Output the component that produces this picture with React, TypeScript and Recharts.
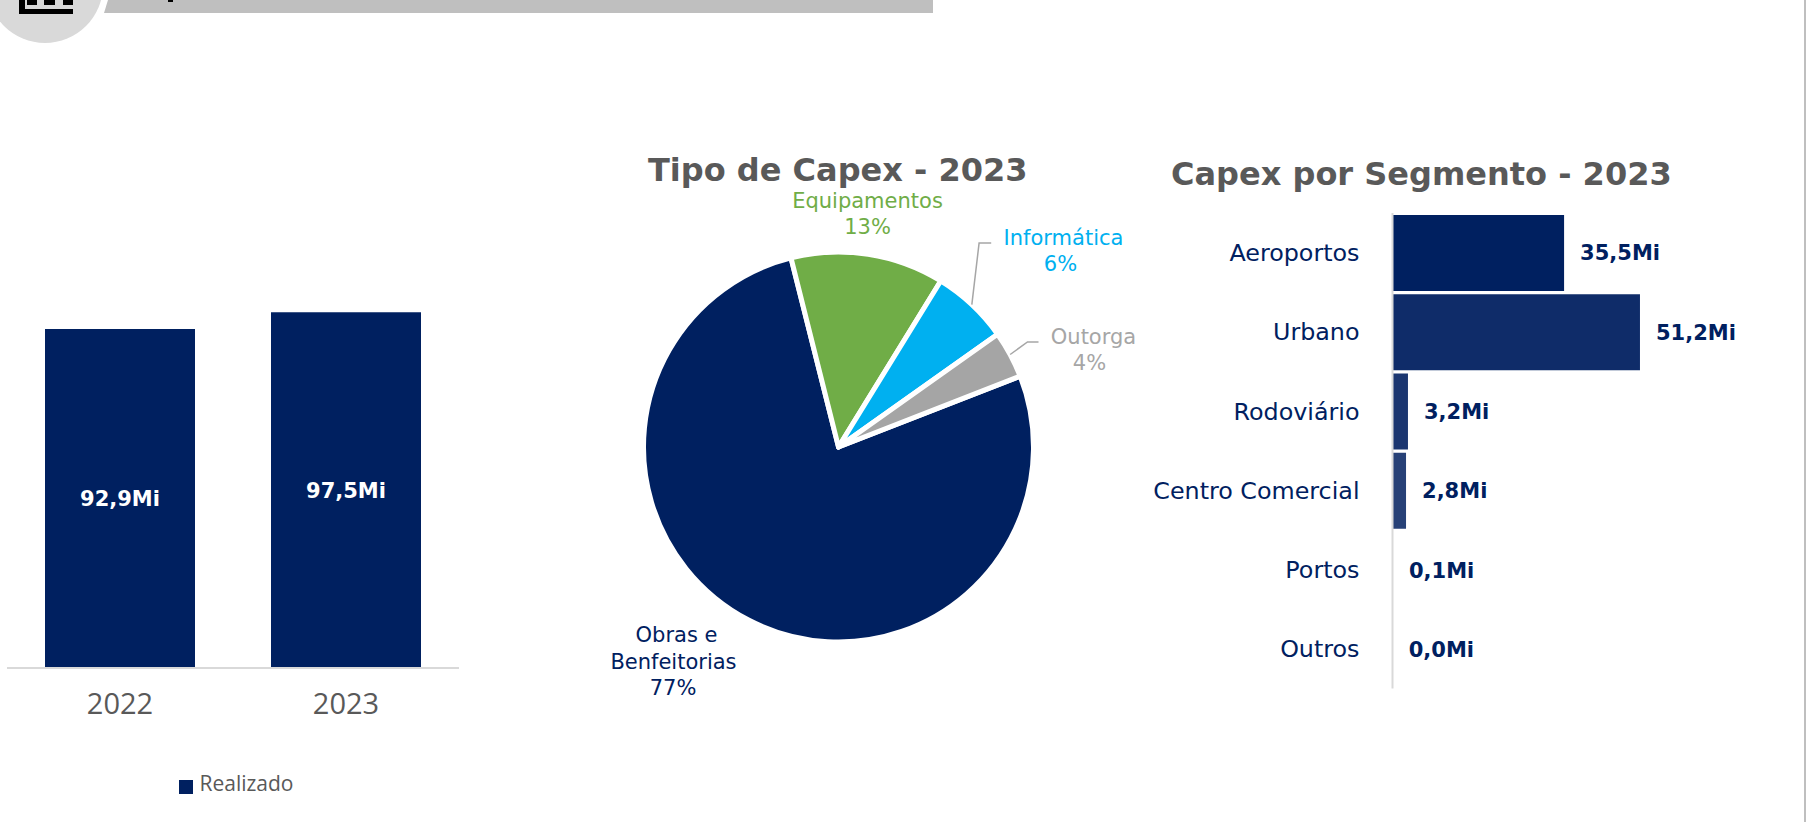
import React from 'react';
import {
  BarChart,
  Bar,
  XAxis,
  YAxis,
  Cell,
  LabelList,
  Legend,
  PieChart,
  Pie,
} from 'recharts';

const NAVY = '#002060';
const GREY_TEXT = '#595959';
const AXIS_GREY = '#D9D9D9';
const FONT = '"DejaVu Sans", Verdana, sans-serif';

// Realizado per year
const years = ['2022', '2023'];
const realizado = [92.9, 97.5];

// Tipo de Capex - 2023 (labels show these rounded; slices)
const capexTypes = ['Obras e Benfeitorias', 'Equipamentos', 'Informática', 'Outorga'];
const capexShares = [77.0, 12.7, 6.4, 3.9];
const capexColors = [NAVY, '#70AD47', '#00B0F0', '#A5A5A5'];
const capexLabelColors = [NAVY, '#70AD47', '#00B0F0', '#A6A6A6'];

// Capex por Segmento - 2023 (Outros is shown as 0,0Mi, so just under 0.05)
const segments = ['Aeroportos', 'Urbano', 'Rodoviário', 'Centro Comercial', 'Portos', 'Outros'];
const segmentValues = [35.5, 51.2, 3.2, 2.8, 0.1, 0.04];
const segmentColors = ['#002060', '#0F2C69', '#1B3670', '#274177', '#334B7E', '#3F5585'];

// label layout around the pie, as offsets from its centre
const labelLineBreaks = [['Obras e', 'Benfeitorias'], ['Equipamentos'], ['Informática'], ['Outorga']];
const labelOffsets = [
  [[-162, 187.5], [-165, 214.5], [-165.5, 240.5]],
  [[29, -246.5], [29, -220.5]],
  [[225, -209.5], [222, -183.5]],
  [[255, -110.5], [251, -84.5]],
];
const leaderElbows: (number[][] | null)[] = [
  null,
  null,
  [[140.6, -204], [152.7, -204]],
  [[189, -105], [200, -105]],
];

const yearData = years.map((year, i) => ({ year, value: realizado[i] }));
const typeData = capexTypes.map((name, i) => ({ name, value: capexShares[i] }));
const segmentData = segments.map((name, i) => ({ name, value: segmentValues[i] }));

const formatMi = (v: number) => v.toFixed(1).replace('.', ',') + 'Mi';

const PieLabel = (props: any) => {
  const { cx, cy, midAngle, outerRadius, index, value } = props;
  const lines = [...labelLineBreaks[index], `${Math.round(value)}%`];
  const elbow = leaderElbows[index];
  const rad = (midAngle * Math.PI) / 180;
  const sx = cx + outerRadius * Math.cos(rad);
  const sy = cy - outerRadius * Math.sin(rad);
  return (
    <g>
      {elbow && (
        <polyline
          points={[[sx, sy], ...elbow.map(([x, y]) => [cx + x, cy + y])].map((p) => p.join(',')).join(' ')}
          fill="none"
          stroke="#A6A6A6"
          strokeWidth={1.5}
        />
      )}
      {lines.map((line, i) => (
        <text
          key={i}
          x={cx + labelOffsets[index][i][0]}
          y={cy + labelOffsets[index][i][1]}
          textAnchor="middle"
          dominantBaseline="central"
          fontFamily={FONT}
          fontSize={21}
          fill={capexLabelColors[index]}
        >
          {line}
        </text>
      ))}
    </g>
  );
};

const Title = ({ text, left, top }: { text: string; left: number; top: number }) => (
  <div
    style={{
      position: 'absolute',
      left,
      top,
      fontFamily: FONT,
      fontWeight: 700,
      fontSize: 32,
      lineHeight: '40px',
      color: GREY_TEXT,
      whiteSpace: 'nowrap',
    }}
  >
    {text}
  </div>
);

const box = (left: number, top: number, width: number, height: number, background: string): React.CSSProperties => ({
  position: 'absolute',
  left,
  top,
  width,
  height,
  background,
});

const Header = () => (
  <>
    <div
      style={{
        ...box(104, 0, 829, 13, '#BFBFBF'),
        clipPath: 'polygon(4px 0, 100% 0, 100% 100%, 0 100%)',
      }}
    />
    <div style={box(168, 0, 5, 2, '#000')} />
    <div style={{ ...box(-13, -73, 116, 116, '#D9D9D9'), borderRadius: '50%' }} />
    <div style={box(19, 0, 6, 14, '#000')} />
    <div style={box(19, 9, 54, 5, '#000')} />
    <div style={box(27, 0, 10, 5, '#000')} />
    <div style={box(44, 0, 11, 5, '#000')} />
    <div style={box(63, 0, 10, 5, '#000')} />
    <div style={box(1804, 0, 2, 822, '#BFBFBF')} />
  </>
);

export default function App() {
  return (
    <div style={{ position: 'absolute', left: 0, top: 0, width: 1806, height: 822, overflow: 'hidden', background: '#fff' }}>
      <Header />

      <div style={{ position: 'absolute', left: 0, top: 0 }}>
        <BarChart width={470} height={822} data={yearData} margin={{ top: 303, right: 11, bottom: 0, left: 7 }}>
          <XAxis
            dataKey="year"
            height={154}
            tickLine={false}
            tickMargin={19.5}
            axisLine={{ stroke: AXIS_GREY, strokeWidth: 2 }}
            tick={{ fontFamily: '"Open Sans"', fontSize: 29, fill: GREY_TEXT }}
          />
          <YAxis hide domain={[0, 100]} />
          <Legend
            layout="horizontal"
            verticalAlign="middle"
            iconType="square"
            iconSize={14}
            wrapperStyle={{ left: 171.5, top: 769, width: 140, right: 'auto', bottom: 'auto' }}
            formatter={(v: string) => (
              <span style={{ color: GREY_TEXT, fontFamily: '"Open Sans"', fontSize: 21, marginLeft: 2 }}>{v}</span>
            )}
          />
          <Bar dataKey="value" name="Realizado" fill={NAVY} barSize={150} isAnimationActive={false}>
            <LabelList
              dataKey="value"
              position="center"
              formatter={formatMi as any}
              style={{ fill: '#fff', fontFamily: FONT, fontWeight: 700, fontSize: 21 }}
            />
          </Bar>
        </BarChart>
      </div>

      <Title text="Tipo de Capex - 2023" left={648} top={150} />
      <div style={{ position: 'absolute', left: 560, top: 170 }}>
        <PieChart width={600} height={560} margin={{ top: 0, right: 0, bottom: 0, left: 0 }}>
          <Pie
            data={typeData}
            dataKey="value"
            nameKey="name"
            cx={278.5}
            cy={277}
            outerRadius={195}
            startAngle={21.3}
            endAngle={-338.7}
            stroke="#fff"
            strokeWidth={5}
            strokeLinejoin="round"
            label={PieLabel}
            labelLine={false}
            isAnimationActive={false}
          >
            {typeData.map((_, i) => (
              <Cell key={i} fill={capexColors[i]} strokeLinejoin="round" />
            ))}
          </Pie>
        </PieChart>
      </div>

      <Title text="Capex por Segmento - 2023" left={1171} top={154} />
      <div style={{ position: 'absolute', left: 1100, top: 0 }}>
        <BarChart
          width={700}
          height={700}
          data={segmentData}
          layout="vertical"
          margin={{ top: 213, right: 117.5, bottom: 11.4, left: 0 }}
        >
          <XAxis type="number" hide domain={[0, 60]} height={0} />
          <YAxis
            type="category"
            dataKey="name"
            width={292.5}
            interval={0}
            tickLine={false}
            tickMargin={27}
            axisLine={{ stroke: AXIS_GREY, strokeWidth: 2 }}
            tick={{ fontFamily: FONT, fontSize: 23.8, fill: NAVY }}
          />
          <Bar dataKey="value" barSize={76} isAnimationActive={false}>
            {segmentData.map((_, i) => (
              <Cell key={i} fill={segmentColors[i]} />
            ))}
            <LabelList
              dataKey="value"
              position="right"
              offset={16}
              formatter={formatMi as any}
              style={{ fill: NAVY, fontFamily: FONT, fontWeight: 700, fontSize: 21 }}
            />
          </Bar>
        </BarChart>
      </div>
    </div>
  );
}
